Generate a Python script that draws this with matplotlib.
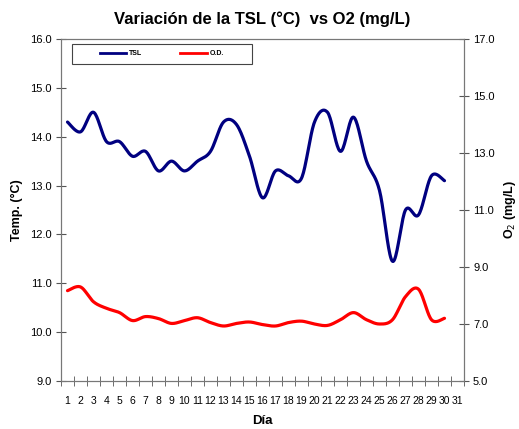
import numpy as np
import matplotlib
matplotlib.use("Agg")
import matplotlib.pyplot as plt
from matplotlib.lines import Line2D
from matplotlib.patches import Rectangle

plt.rcParams['font.family'] = ['Liberation Sans', 'DejaVu Sans']

# datos
dias = list(range(1, 31))
tsl = [14.3, 14.1, 14.5, 13.9, 13.9, 13.6, 13.7, 13.3, 13.5, 13.3,
       13.5, 13.7, 14.3, 14.25, 13.6, 12.75, 13.3, 13.2, 13.15, 14.3,
       14.5, 13.7, 14.4, 13.5, 12.9, 11.45, 12.5, 12.4, 13.2, 13.1]
od = [8.17, 8.3, 7.78, 7.55, 7.4, 7.12, 7.26, 7.19, 7.02, 7.12,
      7.22, 7.05, 6.93, 7.02, 7.07, 6.98, 6.93, 7.05, 7.1, 7.0,
      6.95, 7.15, 7.4, 7.15, 7.0, 7.15, 7.96, 8.22, 7.15, 7.2]
xlabels = [str(i) for i in range(1, 32)]


def suave(x, y, n=20):
    # linea suavizada tipo excel (catmull-rom)
    x = np.asarray(x, float)
    y = np.asarray(y, float)
    px = np.concatenate([[x[0]], x, [x[-1]]])
    py = np.concatenate([[y[0]], y, [y[-1]]])
    xs, ys = [], []
    t = np.linspace(0, 1, n, endpoint=False)
    for i in range(1, len(px) - 2):
        for p, out in ((px, xs), (py, ys)):
            p0, p1, p2, p3 = p[i - 1], p[i], p[i + 1], p[i + 2]
            out.extend(0.5 * ((2 * p1) + (-p0 + p2) * t +
                              (2 * p0 - 5 * p1 + 4 * p2 - p3) * t ** 2 +
                              (-p0 + 3 * p1 - 3 * p2 + p3) * t ** 3))
    xs.append(x[-1])
    ys.append(y[-1])
    return np.array(xs), np.array(ys)


fig = plt.figure(figsize=(5.19, 4.29), dpi=100)
ax = fig.add_axes([61 / 519, 1 - 381 / 429, 403 / 519, 342 / 429])
ax2 = ax.twinx()

xs, ys = suave(dias, tsl)
ax.plot(xs, ys, color='#000080', lw=2.3, solid_capstyle='round', zorder=3)
xs, ys = suave(dias, od)
ax2.plot(xs, ys, color='#FF0000', lw=2.3, solid_capstyle='round', zorder=3)

ax.set_xlim(0.5, 31.5)
ax.set_ylim(9, 16)
ax2.set_ylim(5, 17)
ax.set_yticks(np.arange(9, 16.1, 1))
ax.set_yticklabels([f"{v:.1f}" for v in np.arange(9, 16.1, 1)])
ax2.set_yticks(np.arange(5, 17.1, 2))
ax2.set_yticklabels([f"{v:.1f}" for v in np.arange(5, 17.1, 2)])
ax.set_xticks(np.arange(1, 32))
ax.set_xticklabels(xlabels)
ax.set_xticks(np.arange(0.5, 31.6, 1), minor=True)
ax.tick_params(axis='x', which='major', length=0, labelsize=7.5, pad=11)
ax.tick_params(axis='x', which='minor', length=7, direction='inout', color='#555555')
ax.tick_params(axis='y', length=7, direction='inout', color='#555555', labelsize=8, pad=3)
ax2.tick_params(axis='y', length=7, direction='inout', color='#555555', labelsize=8, pad=3)

for a in (ax, ax2):
    for s in a.spines.values():
        s.set_color('#777777')
        s.set_linewidth(0.8)

ax.set_ylabel('Temp. (°C)', fontsize=9, fontweight='bold', labelpad=5)
ax2.set_ylabel('O$_2$ (mg/L)', fontsize=9, fontweight='bold', labelpad=5)
ax.set_xlabel('Día', fontsize=9.5, fontweight='bold', labelpad=6)
fig.text(0.505, 1 - 19 / 429, 'Variación de la TSL (°C)  vs O2 (mg/L)', ha='center', va='center',
         fontsize=12, fontweight='bold')

# recuadro de la leyenda
x0, x1 = (72 - 61) / 403, (252 - 61) / 403
y0, y1 = 1 - (64 - 39) / 342, 1 - (44 - 39) / 342
ax2.add_patch(Rectangle((x0, y0), x1 - x0, y1 - y0, transform=ax.transAxes,
                        facecolor='white', edgecolor='#444444', lw=0.8, zorder=4))
handles = [Line2D([], [], color='#000080', lw=2), Line2D([], [], color='#FF0000', lw=2)]
leg = ax2.legend(handles, ['TSL', 'O.D.'], ncol=2, loc='center',
                 bbox_to_anchor=((x0 + x1) / 2, (y0 + y1) / 2),
                 prop={'size': 5, 'weight': 'bold'}, frameon=False,
                 handlelength=3.8, handletextpad=0.4, columnspacing=5.5, borderpad=0)
leg.set_zorder(5)

fig.savefig('out.png', dpi=100)
